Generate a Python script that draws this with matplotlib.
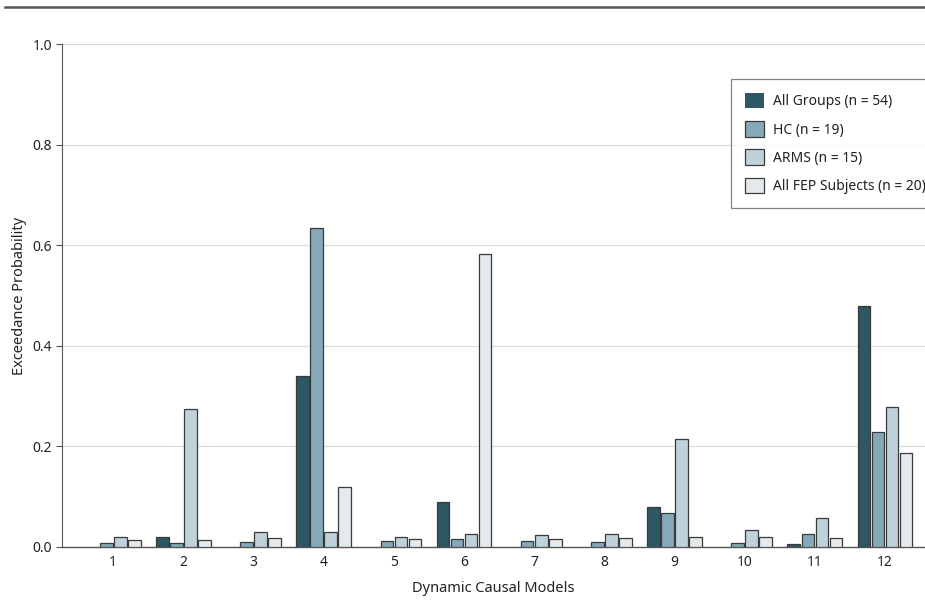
import matplotlib
matplotlib.use("Agg")
import matplotlib.pyplot as plt
from matplotlib.lines import Line2D
import numpy as np

plt.rcParams['font.family'] = ['Noto Sans', 'DejaVu Sans']

models = ["1", "2", "3", "4", "5", "6", "7", "8", "9", "10", "11", "12"]
series_names = ["All Groups (n = 54)", "HC (n = 19)", "ARMS (n = 15)", "All FEP Subjects (n = 20)"]
all_groups = [0.0, 0.020, 0.0, 0.340, 0.0, 0.089, 0.0, 0.0, 0.079, 0.0, 0.006, 0.480]
hc = [0.007, 0.008, 0.010, 0.634, 0.012, 0.015, 0.012, 0.010, 0.068, 0.007, 0.026, 0.228]
arms = [0.020, 0.274, 0.029, 0.030, 0.019, 0.025, 0.024, 0.026, 0.214, 0.034, 0.057, 0.279]
fep = [0.013, 0.013, 0.017, 0.120, 0.015, 0.583, 0.015, 0.018, 0.020, 0.019, 0.017, 0.186]
colors = ["#2e5764", "#85a9b8", "#bfd1db", "#e4e9ec"]

fig = plt.figure(figsize=(9.25, 6.11), dpi=100)
ax = fig.add_axes([62/925, 64/611, 1 - 62/925, 503/611])

x = np.arange(1, len(models) + 1)
step = 0.2
width = 0.18
for i, (vals, name, c) in enumerate(zip([all_groups, hc, arms, fep], series_names, colors)):
    bars = ax.bar(x + (i - 1.5) * step, vals, width=width, color=c, edgecolor="#3a3a3a",
                  linewidth=0.9, label=name, zorder=3)
    for b, v in zip(bars, vals):
        if v == 0:
            b.set_linewidth(0)

ax.set_xlim(0.27, 12.57)
ax.set_ylim(0, 1.0)
ax.set_yticks([0, 0.2, 0.4, 0.6, 0.8, 1.0])
ax.set_yticklabels(["0.0", "0.2", "0.4", "0.6", "0.8", "1.0"])
ax.set_xticks(x)
ax.set_xticklabels(models)
ax.tick_params(axis='x', length=0, labelsize=10, pad=6, colors="#222222")
ax.tick_params(axis='y', length=4, width=0.8, labelsize=10, colors="#222222", direction='out', pad=3)
ax.tick_params(axis='y', color="#555555")
ax.yaxis.grid(True, color="#dcdcdc", linewidth=0.9, zorder=0)
ax.set_axisbelow(True)
for s in ["top", "right"]:
    ax.spines[s].set_visible(False)
ax.spines["left"].set_color("#555555")
ax.spines["left"].set_linewidth(0.8)
ax.spines["bottom"].set_color("#555555")
ax.spines["bottom"].set_linewidth(1.0)

ax.set_ylabel("Exceedance Probability", fontsize=10.5, color="#222222", labelpad=4)
ax.set_xlabel("Dynamic Causal Models", fontsize=10.5, color="#222222", labelpad=8)

leg = ax.legend(loc="upper left", bbox_to_anchor=(731/925, 1 - 79/611),
                bbox_transform=fig.transFigure, frameon=True, fancybox=False,
                fontsize=10, handlelength=1.35, handleheight=1.35, handletextpad=0.7,
                labelspacing=0.85, borderpad=1.0, borderaxespad=0)
leg.get_frame().set_edgecolor("#666666")
leg.get_frame().set_linewidth(0.9)
for t in leg.get_texts():
    t.set_color("#222222")

fig.add_artist(Line2D([5/925, 1.0], [1 - 7/611, 1 - 7/611], color="#555555",
                      linewidth=1.8, transform=fig.transFigure))

fig.savefig("out.png", dpi=100)
